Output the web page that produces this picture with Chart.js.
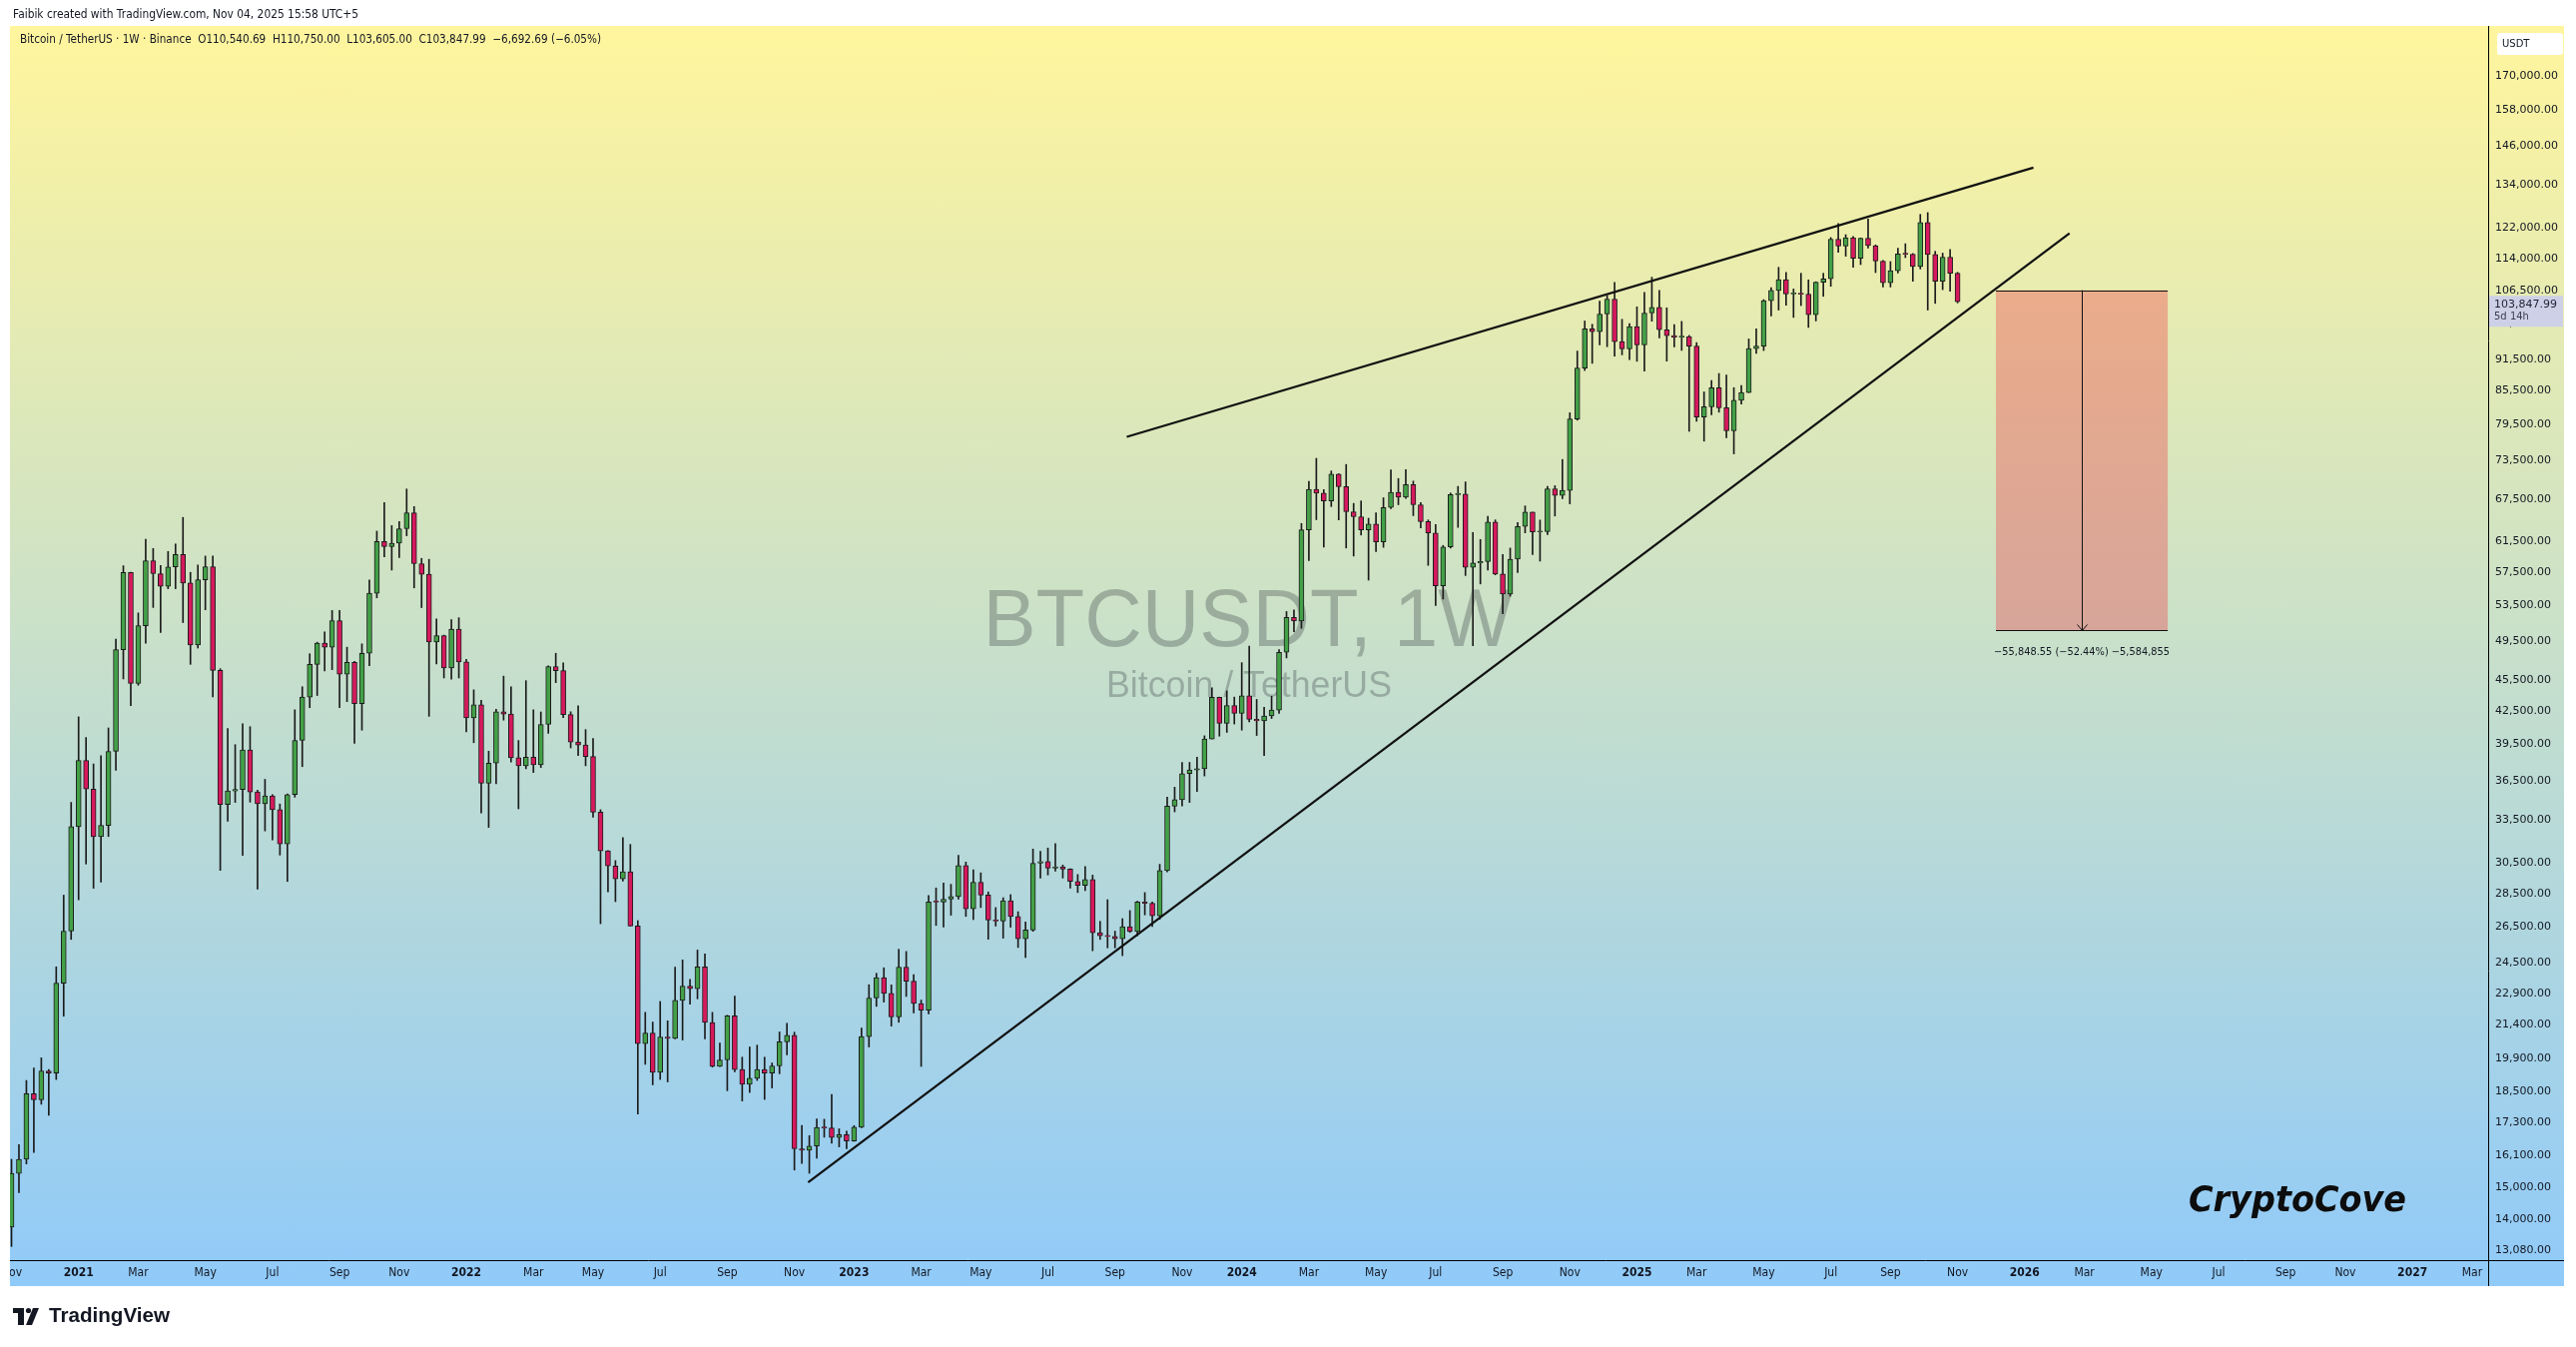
<!DOCTYPE html>
<html><head><meta charset="utf-8"><title>BTCUSDT 1W</title>
<script src="https://cdn.jsdelivr.net/npm/chart.js@4.4.1/dist/chart.umd.min.js"></script>
<style>
html,body{margin:0;padding:0;background:#fff;width:2580px;height:1349px;overflow:hidden}
canvas{display:block}
</style></head><body>
<canvas id="c" width="2580" height="1349" style="width:2580px;height:1349px"></canvas>
<script>
// ---------- DATA (weekly candles, Binance BTCUSDT) ----------
const firstWeek = '2020-11-02';
const opens = [
13761,15480,15960,18415,18180,19360,19270,23450,26270,
33000,38150,35830,32290,33090,38900,48580,57490,45135,51200,59000,57350,55800,58200,59800,56200,49070,56600,58240,46430,34650,35680,35800,39020,35600,34700,35290,34250,31780,35400,39850,43800,47050,49270,48850,51750,46050,47260,43170,48200,54950,61530,60850,61300,63270,65500,58620,57270,49400,50100,46680,50800,
47300,41860,43080,36280,37920,42410,42200,38360,37700,38420,37790,41260,46830,46400,42160,39700,39450,38470,34060,31300,30290,29450,29900,26570,20550,21030,19300,20850,20790,22580,23300,23170,24300,21520,19550,19830,21830,19420,18800,19050,19420,19270,19570,20630,20920,16330,16280,16430,17110,17090,16740,16840,
16610,17120,20870,22700,23740,22930,21780,24280,23550,22430,22100,28000,27990,28170,28330,30310,27590,29230,28430,26920,26850,28080,27120,25840,26340,30470,30580,30150,30230,30080,29280,29040,29400,26180,26010,25970,25840,26530,26250,27990,27920,27160,29990,34520,35010,37060,37360,37450,39970,43790,41370,43010,
42280,43930,41730,41580,42030,42580,48300,52140,51730,63110,68950,68390,67210,71280,69360,65660,64940,63120,63900,61480,66270,68510,67770,69650,66670,64250,62680,55860,60800,68160,68250,58160,58710,58900,64200,57300,54850,59200,63580,65600,62820,62870,69030,68020,68800,80400,89850,97900,97280,101120,104460,95190,93720,
98360,94530,101330,102600,97700,96460,96130,96260,94270,80730,82580,86080,82390,78370,83760,85180,93750,94280,104120,106450,109000,105640,105730,105600,100960,108380,109200,119090,117300,119450,114200,119300,117400,113500,108250,111150,115270,115230,112160,123500,115170,108650,114500,110540.69
];
const highs = [
15960,16480,18960,19480,19920,19420,24300,28420,34800,
41950,40100,37850,38530,40950,49710,58350,57530,52640,61840,60600,58400,60200,61200,64850,57520,58450,59600,59600,46600,40900,39480,41330,41060,35750,36600,35400,34680,35450,42600,44800,48150,49380,50500,52920,52920,48840,47360,49200,56560,62930,67000,63700,64270,69000,66400,59300,59180,51950,50150,51880,52090,
47570,44500,43500,38920,42650,45850,44800,39840,45400,42600,42400,46900,48200,47200,42420,42980,40800,40020,34250,31330,30650,32220,31750,26880,22000,21540,22530,21600,24280,24670,23650,25210,25000,22000,20580,21860,22800,19950,20400,20480,19950,19700,21080,21480,21070,17190,16810,17430,17420,18390,17060,16970,
17180,21260,23370,23960,24250,23360,25250,25130,23890,22600,28390,28870,29190,29100,31000,30550,30040,29840,28620,27660,28260,28450,27410,26800,31430,31280,31500,31800,30350,30100,29730,30250,29690,26840,28140,26270,27000,27480,28050,28580,28000,30400,35200,35980,37980,37980,38420,40250,44700,43800,44400,43800,
47220,48970,43580,42840,43880,48590,52800,52980,64000,70170,73780,68920,71770,71340,72800,66870,67230,64730,65500,67700,71950,70600,71990,70200,67000,64500,63850,61000,68400,69400,70080,62750,61800,65000,64500,59800,60650,64130,66500,65620,64480,69400,69500,73600,81500,93260,99590,98870,104000,105250,108350,99960,99000,
102720,106000,109590,106450,102500,98830,99500,96500,95000,85300,87450,88800,88500,86100,86500,95760,97900,104360,107100,111980,110720,106800,110530,108950,108500,110530,119500,123220,120250,119800,119400,124470,117600,113650,113400,116770,117900,115400,125700,126200,115970,115500,116400,110750
];
const lows = [
13195,14840,15800,16200,18000,17570,19000,21815,25800,
28130,30420,28850,29240,32300,37330,45570,43000,44950,49270,53270,50430,55500,55500,51540,47050,48750,53000,43825,30000,33400,34800,31000,34820,28800,32700,32070,31020,29280,35200,37630,42800,43950,46370,46500,42800,43370,39600,40750,46900,54400,59500,57800,59400,62300,55600,53250,42000,47100,45670,45560,45670,
40600,39650,34000,32950,36250,41650,38000,34320,37450,37150,37560,40470,45200,41870,39200,38540,37700,33700,26700,28630,28020,29300,26560,17620,19640,18780,19000,18900,20760,20710,22400,22660,20760,19520,19540,18540,19320,18130,18470,18960,18190,18650,19240,20050,15590,15820,15480,16000,16750,16530,16400,16330,
16600,17100,20400,22290,22500,21350,21530,22780,21970,19550,21920,26600,26500,27200,28170,27130,26940,27660,25810,26560,25870,26500,25350,24800,26260,29500,29700,29950,29500,28860,28580,28700,25170,25800,25330,25330,24900,26200,26000,27220,26530,26960,29900,34090,34530,34800,35630,36870,39970,40220,40550,41300,
40750,41500,40280,38550,41800,42260,47710,50520,50900,59000,64530,60770,66400,64500,60660,59600,62400,56550,60190,60750,66100,66670,67600,65100,63380,58400,53500,54260,60650,63450,57120,49000,56080,57800,57200,52550,54600,57500,62700,59800,58950,62440,65050,67550,66800,80200,89380,90790,94500,94150,92230,92500,91530,
91200,89260,99550,96000,91230,94090,93400,78260,80000,76600,81130,81600,77150,74500,83050,85150,92800,93370,100700,102000,103060,100370,103000,98200,99600,105100,107430,115740,114720,112000,112650,116800,110700,107250,107270,110600,114380,108620,111570,102000,103500,106650,106300,103605
];
const closes = [
15480,15960,18415,18180,19360,19270,23450,26270,33000,
38150,35830,32290,33090,38900,48580,57490,45135,51200,59000,57350,55800,58200,59800,56200,49070,56600,58240,46430,34650,35680,35800,39020,35600,34700,35290,34250,31780,35400,39850,43800,47050,49270,48850,51750,46050,47260,43170,48200,54950,61530,60850,61300,63270,65500,58620,57270,49400,50100,46680,50800,47300,
41860,43080,36280,37920,42410,42200,38360,37700,38420,37790,41260,46830,46400,42160,39700,39450,38470,34060,31300,30290,29450,29900,26570,20550,21030,19300,20850,20790,22580,23300,23170,24300,21520,19550,19830,21830,19420,18800,19050,19420,19270,19570,20630,20920,16330,16280,16430,17110,17090,16740,16840,16610,
17120,20870,22700,23740,22930,21780,24280,23550,22430,22100,28000,27990,28170,28330,30310,27590,29230,28430,26920,26850,28080,27120,25840,26340,30470,30580,30150,30230,30080,29280,29040,29400,26180,26010,25970,25840,26530,26250,27990,27920,27160,29990,34520,35010,37060,37360,37450,39970,43790,41370,43010,42280,
43930,41730,41580,42030,42580,48300,52140,51730,63110,68950,68390,67210,71280,69360,65660,64940,63120,63900,61480,66270,68510,67770,69650,66670,64250,62680,55860,60800,68160,68250,58160,58710,58900,64200,57300,54850,59200,63580,65600,62820,62870,69030,68020,68800,80400,89850,97900,97280,101120,104460,95190,93720,98360,
94530,101330,102600,97700,96460,96130,96260,94270,80730,82580,86080,82390,78370,83760,85180,93750,94280,104120,106450,109000,105640,105730,105600,100960,108380,109200,119090,117300,119450,114200,119300,117400,113500,108250,111150,115270,115230,112160,123500,115170,108650,114500,110540.69,103847.99
];
// price-axis tick values
const priceTicks = [170000,158000,146000,134000,122000,114000,106500,99000,91500,85500,79500,73500,67500,61500,57500,53500,49500,45500,42500,39500,36500,33500,30500,28500,26500,24500,22900,21400,19900,18500,17300,16100,15000,14000,13080];
// time-axis ticks (months) and their labels
const timeTickMonths = ['2020-11','2021-01','2021-03','2021-05','2021-07','2021-09','2021-11','2022-01','2022-03','2022-05','2022-07','2022-09','2022-11','2023-01','2023-03','2023-05','2023-07','2023-09','2023-11','2024-01','2024-03','2024-05','2024-07','2024-09','2024-11','2025-01','2025-03','2025-05','2025-07','2025-09','2025-11','2026-01','2026-03','2026-05','2026-07','2026-09','2026-11','2027-01','2027-03'];
const timeTickLabels = ['Nov','2021','Mar','May','Jul','Sep','Nov','2022','Mar','May','Jul','Sep','Nov','2023','Mar','May','Jul','Sep','Nov','2024','Mar','May','Jul','Sep','Nov','2025','Mar','May','Jul','Sep','Nov','2026','Mar','May','Jul','Sep','Nov','2027','Mar'];
// drawings (x = days since 2021-01-01, y = price)
const trendUpper = [{x:987.0, y:77320}, {x:1838.2, y:139230}];
const trendLower = [{x:687.9, y:15180}, {x:1872.1, y:120600}];
const rangeBox = {fromDay:1803.0, toDay:1964.3, top:106500, bottom:50651.45};
const rangeLabel = '\u221255,848.55 (\u221252.44%) \u22125,584,855';
const legendText = 'Bitcoin / TetherUS \u00b7 1W \u00b7 Binance  O110,540.69  H110,750.00  L103,605.00  C103,847.99  \u22126,692.69 (\u22126.05%)';
const headerText = 'Faibik created with TradingView.com, Nov 04, 2025 15:58 UTC+5';
const countdownText = '5d 14h';

// ---------- helpers ----------
const DAY0 = Date.UTC(2021,0,1);
const dayOf = s => (Date.parse(s + 'T00:00:00Z') - DAY0) / 86400000;
function firstMonday(ym){
  const [y,m] = ym.split('-').map(Number);
  let d = new Date(Date.UTC(y, m-1, 1));
  while (d.getUTCDay() !== 1) d = new Date(d.getTime() + 86400000);
  return (d.getTime() - DAY0) / 86400000;
}
const tickDays = timeTickMonths.map(firstMonday);
const start = dayOf(firstWeek);
const xDays = opens.map((_, i) => start + 7 * i);
const bodyData = xDays.map((x, i) => ({x, y:[opens[i], closes[i]]}));
const wickData = xDays.map((x, i) => ({x, y:[lows[i], highs[i]]}));
const UP = '#43a047', DOWN = '#d6195c', EDGE = '#1b1b1b';
const bodyColors = opens.map((o, i) => closes[i] >= o ? UP : DOWN);
const fmt = v => v.toLocaleString('en-US', {minimumFractionDigits:2, maximumFractionDigits:2});
const NARROW = "'Liberation Sans Narrow','DejaVu Sans Condensed','Arial Narrow',sans-serif";

function fitText(ctx, text, x, y, w, font, color, align){
  ctx.save();
  ctx.font = font; ctx.fillStyle = color; ctx.textBaseline = 'middle';
  ctx.textAlign = align || 'left';
  const m = ctx.measureText(text).width;
  ctx.translate(x, y); ctx.scale(w / m, 1);
  ctx.fillText(text, 0, 0);
  ctx.restore();
}

// ---------- plugins ----------
const PANE = {l:10, t:26, r:2568, b:1288};
const backgroundPlugin = {
  id:'bg',
  beforeDraw(chart){
    const ctx = chart.ctx;
    ctx.save();
    ctx.fillStyle = '#ffffff'; ctx.fillRect(0, 0, chart.width, chart.height);
    const g = ctx.createLinearGradient(0, PANE.t, 0, PANE.b);
    g.addColorStop(0, '#fff59d'); g.addColorStop(1, '#90caf9');
    ctx.fillStyle = g; ctx.fillRect(PANE.l, PANE.t, PANE.r - PANE.l, PANE.b - PANE.t);
    ctx.restore();
    // watermark
    ctx.save();
    ctx.textBaseline = 'alphabetic';
    const wm = 'rgba(19,23,34,0.26)';
    ctx.font = '81px "Liberation Sans", Arial, sans-serif';
    let w = ctx.measureText('BTCUSDT, 1W').width;
    ctx.fillStyle = wm; ctx.textAlign = 'center';
    ctx.translate(1250, 647); ctx.scale(531 / w, 1); ctx.fillText('BTCUSDT, 1W', 0, 0);
    ctx.restore();
    ctx.save();
    ctx.font = '36px "Liberation Sans", Arial, sans-serif';
    w = ctx.measureText('Bitcoin / TetherUS').width;
    ctx.fillStyle = 'rgba(19,23,34,0.26)'; ctx.textAlign = 'center'; ctx.textBaseline = 'alphabetic';
    ctx.translate(1251, 698); ctx.scale(286 / w, 1); ctx.fillText('Bitcoin / TetherUS', 0, 0);
    ctx.restore();
  }
};

const overlayPlugin = {
  id:'overlay',
  afterDatasetsDraw(chart){
    const ctx = chart.ctx, xs = chart.scales.x, ys = chart.scales.y;
    const x1 = xs.getPixelForValue(rangeBox.fromDay), x2 = xs.getPixelForValue(rangeBox.toDay);
    const y1 = ys.getPixelForValue(rangeBox.top), y2 = ys.getPixelForValue(rangeBox.bottom);
    ctx.save();
    ctx.fillStyle = 'rgba(238,62,74,0.37)';
    ctx.fillRect(x1, y1, x2 - x1, y2 - y1);
    ctx.strokeStyle = '#111'; ctx.lineWidth = 1;
    ctx.beginPath();
    ctx.moveTo(x1, Math.round(y1) + 0.5); ctx.lineTo(x2, Math.round(y1) + 0.5);
    ctx.moveTo(x1, Math.round(y2) + 0.5); ctx.lineTo(x2, Math.round(y2) + 0.5);
    const xm = Math.round((x1 + x2) / 2) + 0.5;
    ctx.moveTo(xm, y1); ctx.lineTo(xm, y2);
    ctx.moveTo(xm - 5, y2 - 6); ctx.lineTo(xm, y2); ctx.lineTo(xm + 5, y2 - 6);
    ctx.stroke();
    ctx.restore();
    fitText(ctx, rangeLabel, (x1 + x2) / 2, y2 + 22, 176, '10px "DejaVu Sans", sans-serif', '#131722', 'center');
  },
  afterDraw(chart){
    const ctx = chart.ctx, ys = chart.scales.y;
    ctx.save();
    // white margin left of the pane
    ctx.fillStyle = '#fff'; ctx.fillRect(0, 0, PANE.l, chart.height);
    // axis frame lines
    ctx.strokeStyle = '#000'; ctx.lineWidth = 1;
    ctx.beginPath();
    ctx.moveTo(2492.5, PANE.t); ctx.lineTo(2492.5, PANE.b);
    ctx.moveTo(PANE.l, 1262.5); ctx.lineTo(PANE.r, 1262.5);
    ctx.stroke();
    // USDT box
    ctx.fillStyle = '#ffffff';
    ctx.beginPath(); ctx.roundRect(2501, 33, 66, 22, 3); ctx.fill();
    ctx.fillStyle = '#131722'; ctx.font = '10px "DejaVu Sans", sans-serif';
    ctx.textBaseline = 'middle'; ctx.textAlign = 'left';
    ctx.fillText('USDT', 2506, 44.5);
    // last price label
    const py = ys.getPixelForValue(closes[closes.length - 1]);
    ctx.fillStyle = '#cdd0e6';
    ctx.fillRect(2493, py - 6, 74, 31);
    ctx.fillStyle = '#1e2334'; ctx.font = '11px "DejaVu Sans", sans-serif';
    ctx.fillText(fmt(closes[closes.length - 1]), 2498, py + 3);
    ctx.fillStyle = '#3a3f52'; ctx.font = '10px "DejaVu Sans", sans-serif';
    ctx.fillText(countdownText, 2498, py + 15);
    ctx.restore();
    // header texts
    fitText(ctx, headerText, 13, 15, 346, '12px "DejaVu Sans", sans-serif', '#131722', 'left');
    fitText(ctx, legendText, 20, 40, 582, '12px "DejaVu Sans", sans-serif', '#131722', 'left');
    // CryptoCove signature
    ctx.save();
    ctx.font = 'italic bold 35px "DejaVu Sans", sans-serif';
    const cw = ctx.measureText('CryptoCove').width;
    ctx.fillStyle = '#0d0d0d'; ctx.textBaseline = 'alphabetic'; ctx.textAlign = 'left';
    ctx.translate(2192, 1213); ctx.scale(218 / cw, 1); ctx.fillText('CryptoCove', 0, 0);
    ctx.restore();
    // TradingView logo
    ctx.save();
    ctx.fillStyle = '#131722';
    ctx.fillRect(13, 1310, 11, 5);
    ctx.fillRect(18, 1310, 6, 17);
    ctx.beginPath(); ctx.arc(28.5, 1312.5, 2.6, 0, Math.PI * 2); ctx.fill();
    ctx.beginPath(); ctx.moveTo(33, 1310); ctx.lineTo(39, 1310); ctx.lineTo(32, 1327); ctx.lineTo(26, 1327); ctx.closePath(); ctx.fill();
    ctx.restore();
    fitText(ctx, 'TradingView', 49, 1318.5, 121, 'bold 20px "Liberation Sans", Arial, sans-serif', '#131722', 'left');
  }
};

// ---------- chart ----------
const xMin = -61.406, xMax = 2265.1;
const yMin = 12806, yMax = 189700;

new Chart(document.getElementById('c'), {
  type:'bar',
  data:{
    datasets:[
      {type:'line', data:trendUpper, borderColor:'#111', borderWidth:2.2, pointRadius:0, fill:false, order:0},
      {type:'line', data:trendLower, borderColor:'#111', borderWidth:2.2, pointRadius:0, fill:false, order:0},
      {type:'bar', data:bodyData, backgroundColor:bodyColors, borderColor:EDGE, borderWidth:1,
       borderSkipped:false, barThickness:5, grouped:false, minBarLength:1, order:1},
      {type:'bar', data:wickData, backgroundColor:EDGE, borderWidth:0, barThickness:1, grouped:false, order:2}
    ]
  },
  options:{
    responsive:false, animation:false, devicePixelRatio:1,
    layout:{padding:{left:10, top:26, right:0, bottom:61}, autoPadding:false},
    plugins:{legend:{display:false}, tooltip:{enabled:false}},
    scales:{
      x:{
        type:'linear', min:xMin, max:xMax, offset:false, position:'bottom',
        grid:{display:false, drawTicks:false}, border:{display:false},
        afterBuildTicks:s => { s.ticks = tickDays.map(v => ({value:v})); },
        afterFit:s => { s.height = 26; s.paddingLeft = 0; s.paddingRight = 0; },
        ticks:{
          autoSkip:false, maxRotation:0, minRotation:0, padding:6, color:'#131722',
          font:c => ({family:NARROW, size:12, weight: /^\d{4}$/.test(timeTickLabels[c.index] || '') ? 'bold' : 'normal'}),
          callback:(v, i) => timeTickLabels[i]
        }
      },
      y:{
        type:'logarithmic', position:'right', min:yMin, max:yMax,
        grid:{display:false, drawTicks:false}, border:{display:false},
        afterBuildTicks:s => { s.ticks = priceTicks.map(v => ({value:v})); },
        afterFit:s => { s.width = 88; s.paddingTop = 0; s.paddingBottom = 0; },
        ticks:{padding:7, color:'#131722', font:{family:'"DejaVu Sans", sans-serif', size:11}, callback:v => fmt(v)}
      }
    }
  },
  plugins:[backgroundPlugin, overlayPlugin]
});
</script>
</body></html>
